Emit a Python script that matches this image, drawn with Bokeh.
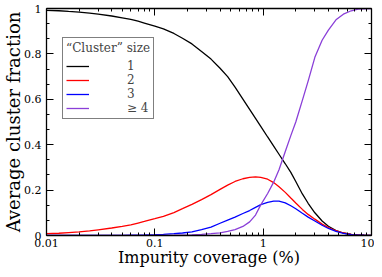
import numpy as np
from bokeh.plotting import figure
from bokeh.models import (LinearAxis, LogAxis, FixedTicker, Legend, LegendItem,
                          BoxAnnotation, Range1d)
from bokeh.embed import file_html
from bokeh.resources import INLINE

# ---- data ----
coverage = [0.01, 0.013, 0.016, 0.02, 0.025, 0.03, 0.04, 0.05, 0.06, 0.07, 0.08,
            0.1, 0.12, 0.15, 0.18, 0.22, 0.27, 0.33, 0.4, 0.47, 0.55, 0.65, 0.75,
            0.85, 0.95, 1.1, 1.25, 1.4, 1.6, 1.8, 2.0, 2.3, 2.6, 3.0, 3.5, 4.0,
            4.7, 5.5, 6.5, 7.5, 8.5, 10.0]
size1 = [0.992, 0.99, 0.987, 0.984, 0.98, 0.975, 0.967, 0.959, 0.952, 0.944, 0.936,
         0.922, 0.91, 0.89, 0.869, 0.844, 0.811, 0.777, 0.737, 0.700, 0.654, 0.601,
         0.556, 0.516, 0.481, 0.434, 0.394, 0.358, 0.316, 0.278, 0.238, 0.183, 0.142,
         0.1, 0.064, 0.041, 0.022, 0.011, 0.005, 0.002, 0.001, 0.0]
size2 = [0.008, 0.01, 0.013, 0.016, 0.02, 0.025, 0.033, 0.04, 0.047, 0.055, 0.062,
         0.074, 0.084, 0.101, 0.118, 0.137, 0.158, 0.18, 0.203, 0.222, 0.238, 0.25,
         0.256, 0.258, 0.256, 0.248, 0.233, 0.215, 0.19, 0.165, 0.143, 0.115, 0.093,
         0.072, 0.05, 0.035, 0.021, 0.011, 0.005, 0.002, 0.001, 0.0]
size3 = [0.0, 0.0, 0.0, 0.0001, 0.0002, 0.0003, 0.0005, 0.0008, 0.0012, 0.0016, 0.0022,
         0.0034, 0.005, 0.008, 0.011, 0.016, 0.026, 0.037, 0.054, 0.068, 0.081, 0.097,
         0.11, 0.124, 0.136, 0.146, 0.151, 0.151, 0.144, 0.131, 0.118, 0.098, 0.081,
         0.064, 0.045, 0.031, 0.018, 0.009, 0.004, 0.002, 0.001, 0.0]
size4 = [0.0, 0.0, 0.0, 0.0, 0.0, 0.0, 0.0, 0.0, 0.0, 0.0001, 0.0002,
         0.0003, 0.0005, 0.001, 0.002, 0.003, 0.005, 0.008, 0.012, 0.018, 0.026, 0.04,
         0.06, 0.09, 0.135, 0.185, 0.235, 0.29, 0.37, 0.44, 0.5, 0.595, 0.68,
         0.785, 0.86, 0.905, 0.95, 0.975, 0.99, 0.997, 0.999, 1.0]

series_labels = ["1", "2", "3", "\u2265 4"]
series_colors = ["black", "#ff0000", "#0000ff", "#8a3fd8"]
legend_title = "\u201cCluster\u201d size"
x_title = "Impurity coverage (%)"
y_title = "Average cluster fraction"

x_ticks = [0.01, 0.1, 1, 10]
x_tick_labels = ["0.01", "0.1", "1", "10"]
y_ticks = [0.0, 0.2, 0.4, 0.6, 0.8, 1.0]
y_tick_labels = ["0", "0.2", "0.4", "0.6", "0.8", "1"]

x_minor = [m * 10.0 ** k for k in range(-2, 1) for m in range(2, 10)]
y_minor = [round(a + i * 0.2 / 3, 6) for a in y_ticks[:-1] for i in (1, 2)]

FONT = "DejaVu Serif"

p = figure(width=374, height=269, x_axis_type="log", output_backend="svg",
           toolbar_location=None, x_range=Range1d(x_ticks[0], x_ticks[-1]),
           y_range=Range1d(y_ticks[0], y_ticks[-1]),
           min_border_top=8, min_border_right=3, min_border_left=0, min_border_bottom=0)
p.grid.visible = False
p.outline_line_color = None
p.background_fill_color = "white"


def style_axis(ax, labels=True):
    ax.axis_line_color = "black"
    ax.axis_line_width = 1.3
    ax.major_tick_in = 7
    ax.major_tick_out = 0
    ax.minor_tick_in = 3
    ax.minor_tick_out = 0
    ax.major_tick_line_color = "black"
    ax.minor_tick_line_color = "black"
    ax.major_label_text_font = FONT
    ax.major_label_text_font_size = "11px"
    ax.major_label_text_color = "black"
    ax.axis_label_text_font = FONT
    ax.axis_label_text_font_style = "normal"
    ax.axis_label_text_color = "black"
    if not labels:
        ax.major_label_text_font_size = "1px"
        ax.major_label_text_alpha = 0
        ax.major_label_standoff = 0
        ax.axis_label_standoff = 0


x_over = dict(zip(x_ticks, x_tick_labels))
y_over = dict(zip(y_ticks, y_tick_labels))

xa = p.xaxis[0]
xa.ticker = FixedTicker(ticks=x_ticks, minor_ticks=x_minor)
xa.major_label_overrides = x_over
xa.axis_label = x_title
style_axis(xa)
xa.axis_label_text_font_size = "16px"
xa.major_label_standoff = 3
xa.axis_label_standoff = -2

ya = p.yaxis[0]
ya.ticker = FixedTicker(ticks=y_ticks, minor_ticks=y_minor)
ya.major_label_overrides = y_over
ya.axis_label = y_title
style_axis(ya)
ya.axis_label_text_font_size = "18px"
ya.major_label_standoff = 5
ya.axis_label_standoff = -3

top = LogAxis(ticker=FixedTicker(ticks=x_ticks, minor_ticks=x_minor))
style_axis(top, labels=False)
p.add_layout(top, "above")
right = LinearAxis(ticker=FixedTicker(ticks=y_ticks, minor_ticks=y_minor))
style_axis(right, labels=False)
p.add_layout(right, "right")

items = []
for ys, lab, col in zip([size1, size2, size3, size4], series_labels, series_colors):
    r = p.line(coverage, ys, line_color=col, line_width=1.3)
    items.append(LegendItem(label=lab, renderers=[r]))

legend = Legend(items=items, location=(16, 116), title=legend_title,
                title_text_font=FONT, title_text_font_size="12px", title_text_font_style="normal",
                title_standoff=4,
                label_text_font=FONT, label_text_font_size="12px", label_text_align="center",
                border_line_color="black", border_line_width=1.2,
                padding=3, spacing=0, glyph_width=23, glyph_height=12,
                label_height=12, label_standoff=38, margin=0,
                background_fill_alpha=1.0)
p.add_layout(legend, "center")

sep = BoxAnnotation(left=16, right=103, top=170.5, bottom=169.5,
                    left_units="screen", right_units="screen",
                    top_units="screen", bottom_units="screen",
                    fill_color="black", fill_alpha=1, line_alpha=0)
p.add_layout(sep)

open("out.html", "w").write(file_html(p, INLINE))
